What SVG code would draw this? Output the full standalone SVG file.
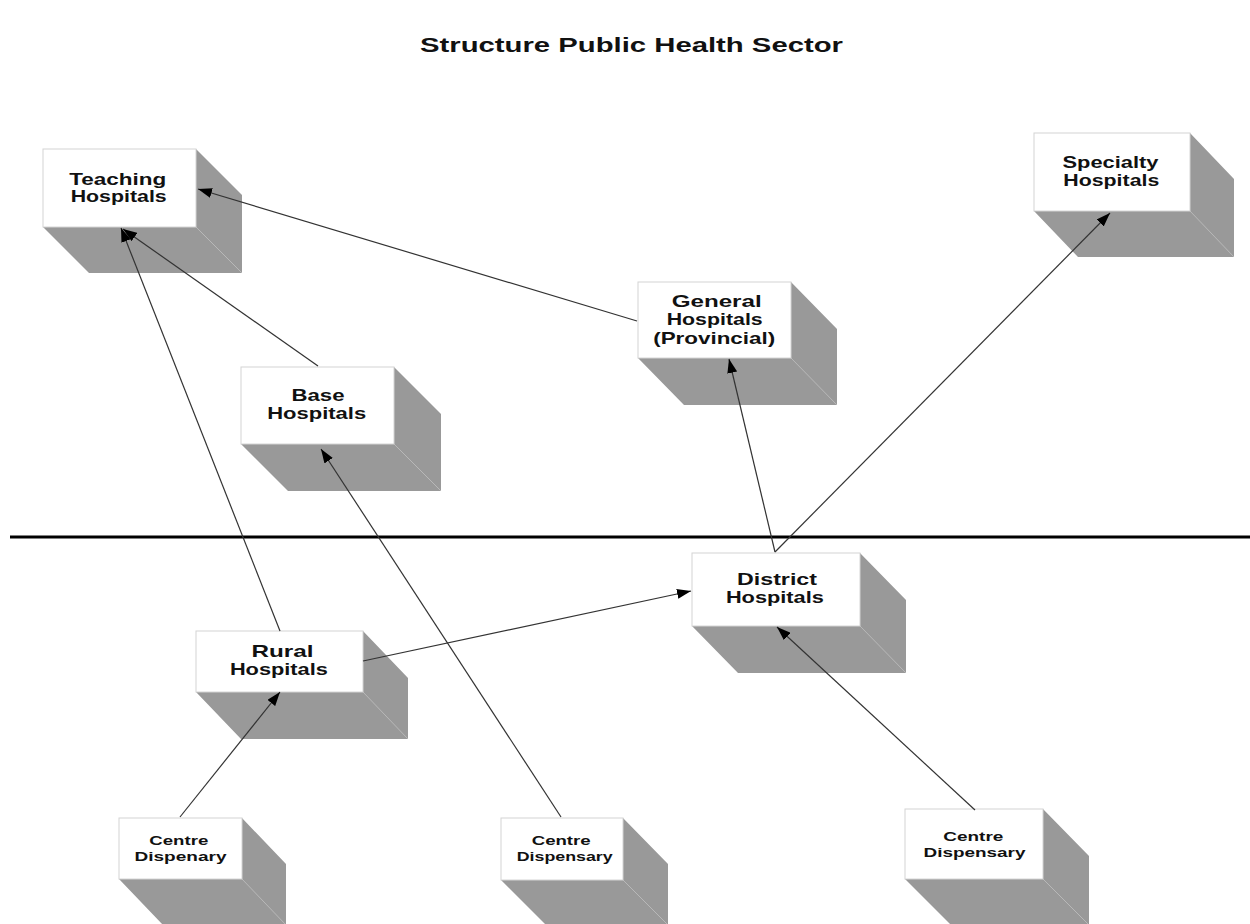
<svg xmlns="http://www.w3.org/2000/svg" width="1250" height="924" viewBox="0 0 1250 924">
  <style>
    .face { fill: #ffffff; stroke: #d4d4d4; stroke-width: 1; }
    .side { fill: #999999; stroke: none; }
    .edge { stroke: #b8b8b8; stroke-width: 1; fill: none; }
    .lbl { font-family: "Liberation Sans", Arial, sans-serif; font-weight: bold; font-size: 17px; fill: #111; text-anchor: middle; }
    .sm { font-size: 13.5px; }
    .title { font-family: "Liberation Sans", Arial, sans-serif; font-weight: bold; font-size: 20px; fill: #111; text-anchor: middle; }
    .conn { stroke: #333; stroke-width: 1.2; fill: none; marker-end: url(#arrow); }
  </style>
  <defs>
    <marker id="arrow" viewBox="0 0 14 10" refX="14" refY="5" markerWidth="14" markerHeight="10" markerUnits="userSpaceOnUse" orient="auto">
      <path d="M0,0 L14,5 L0,10 z" fill="#000"/>
    </marker>
  </defs>

  <rect width="1250" height="924" fill="#ffffff"/>

  <text class="title" x="631.5" y="52" textLength="423" lengthAdjust="spacingAndGlyphs">Structure Public Health Sector</text>

  <!-- divider between hospital tiers -->
  <line x1="10" y1="537" x2="1250" y2="537" stroke="#000" stroke-width="3"/>

  <!-- Teaching Hospitals -->
  <g id="teaching">
    <path class="side" d="M196,149 L242,195 L242,273 L89,273 L43,227 L196,227 z"/>
    <line class="edge" x1="196" y1="227" x2="242" y2="273"/>
    <rect class="face" x="43" y="149" width="153" height="78"/>
    <text class="lbl" x="117.7" y="184.5" textLength="97" lengthAdjust="spacingAndGlyphs">Teaching</text>
    <text class="lbl" x="118.7" y="201.7" textLength="96" lengthAdjust="spacingAndGlyphs">Hospitals</text>
  </g>

  <!-- Specialty Hospitals -->
  <g id="specialty">
    <path class="side" d="M1190,133 L1234,179 L1234,257 L1078,257 L1034,211 L1190,211 z"/>
    <line class="edge" x1="1190" y1="211" x2="1234" y2="257"/>
    <rect class="face" x="1034" y="133" width="156" height="78"/>
    <text class="lbl" x="1110.5" y="168.3" textLength="96" lengthAdjust="spacingAndGlyphs">Specialty</text>
    <text class="lbl" x="1111.3" y="185.7" textLength="96" lengthAdjust="spacingAndGlyphs">Hospitals</text>
  </g>

  <!-- General Hospitals (Provincial) -->
  <g id="general">
    <path class="side" d="M791,282 L837,329 L837,405 L684,405 L638,358 L791,358 z"/>
    <line class="edge" x1="791" y1="358" x2="837" y2="405"/>
    <rect class="face" x="638" y="282" width="153" height="76"/>
    <text class="lbl" x="716.7" y="306.7" textLength="90" lengthAdjust="spacingAndGlyphs">General</text>
    <text class="lbl" x="714.7" y="325" textLength="96" lengthAdjust="spacingAndGlyphs">Hospitals</text>
    <text class="lbl" x="714.2" y="344" textLength="122" lengthAdjust="spacingAndGlyphs">(Provincial)</text>
  </g>

  <!-- Base Hospitals -->
  <g id="base">
    <path class="side" d="M394,367 L441,414 L441,491 L288,491 L241,444 L394,444 z"/>
    <line class="edge" x1="394" y1="444" x2="441" y2="491"/>
    <rect class="face" x="241" y="367" width="153" height="77"/>
    <text class="lbl" x="318" y="401" textLength="53" lengthAdjust="spacingAndGlyphs">Base</text>
    <text class="lbl" x="316.7" y="419.3" textLength="99" lengthAdjust="spacingAndGlyphs">Hospitals</text>
  </g>

  <!-- District Hospitals -->
  <g id="district">
    <path class="side" d="M860,553 L906,600 L906,673 L738,673 L692,626 L860,626 z"/>
    <line class="edge" x1="860" y1="626" x2="906" y2="673"/>
    <rect class="face" x="692" y="553" width="168" height="73"/>
    <text class="lbl" x="777" y="585" textLength="80" lengthAdjust="spacingAndGlyphs">District</text>
    <text class="lbl" x="774.9" y="603.3" textLength="98" lengthAdjust="spacingAndGlyphs">Hospitals</text>
  </g>

  <!-- Rural Hospitals -->
  <g id="rural">
    <path class="side" d="M363,631 L408,678 L408,739 L241,739 L196,692 L363,692 z"/>
    <line class="edge" x1="363" y1="692" x2="408" y2="739"/>
    <rect class="face" x="196" y="631" width="167" height="61"/>
    <text class="lbl" x="282.5" y="656.7" textLength="62" lengthAdjust="spacingAndGlyphs">Rural</text>
    <text class="lbl" x="278.9" y="675" textLength="98" lengthAdjust="spacingAndGlyphs">Hospitals</text>
  </g>

  <!-- Centre Dispenary (left) -->
  <g id="dispensary-left">
    <path class="side" d="M242,818 L286,864 L286,925 L163,925 L119,879 L242,879 z"/>
    <line class="edge" x1="242" y1="879" x2="286" y2="925"/>
    <rect class="face" x="119" y="818" width="123" height="61"/>
    <text class="lbl sm" x="178.8" y="845" textLength="59" lengthAdjust="spacingAndGlyphs">Centre</text>
    <text class="lbl sm" x="180.5" y="860.7" textLength="92" lengthAdjust="spacingAndGlyphs">Dispenary</text>
  </g>

  <!-- Centre Dispensary (middle) -->
  <g id="dispensary-mid">
    <path class="side" d="M623,818 L668,864 L668,925 L546,925 L501,880 L623,880 z"/>
    <line class="edge" x1="623" y1="880" x2="668" y2="925"/>
    <rect class="face" x="501" y="818" width="122" height="62"/>
    <text class="lbl sm" x="561.2" y="845" textLength="59" lengthAdjust="spacingAndGlyphs">Centre</text>
    <text class="lbl sm" x="564.7" y="861" textLength="96" lengthAdjust="spacingAndGlyphs">Dispensary</text>
  </g>

  <!-- Centre Dispensary (right) -->
  <g id="dispensary-right">
    <path class="side" d="M1043,809 L1089,856 L1089,925 L951,925 L905,879 L1043,879 z"/>
    <line class="edge" x1="1043" y1="879" x2="1089" y2="925"/>
    <rect class="face" x="905" y="809" width="138" height="70"/>
    <text class="lbl sm" x="973.3" y="840.7" textLength="60" lengthAdjust="spacingAndGlyphs">Centre</text>
    <text class="lbl sm" x="974.5" y="856.7" textLength="102" lengthAdjust="spacingAndGlyphs">Dispensary</text>
  </g>

  <!-- referral connectors -->
  <g id="connectors">
    <line class="conn" x1="637" y1="321" x2="198" y2="189"/>
    <line class="conn" x1="318" y1="366" x2="123" y2="229"/>
    <line class="conn" x1="280" y1="631" x2="121" y2="228"/>
    <line class="conn" x1="561" y1="817" x2="321" y2="449"/>
    <line class="conn" x1="363" y1="661" x2="691" y2="591"/>
    <line class="conn" x1="775" y1="552" x2="729" y2="359"/>
    <line class="conn" x1="775" y1="552" x2="1110" y2="213"/>
    <line class="conn" x1="180" y1="817" x2="280" y2="692"/>
    <line class="conn" x1="975" y1="810" x2="777" y2="627"/>
  </g>
</svg>
